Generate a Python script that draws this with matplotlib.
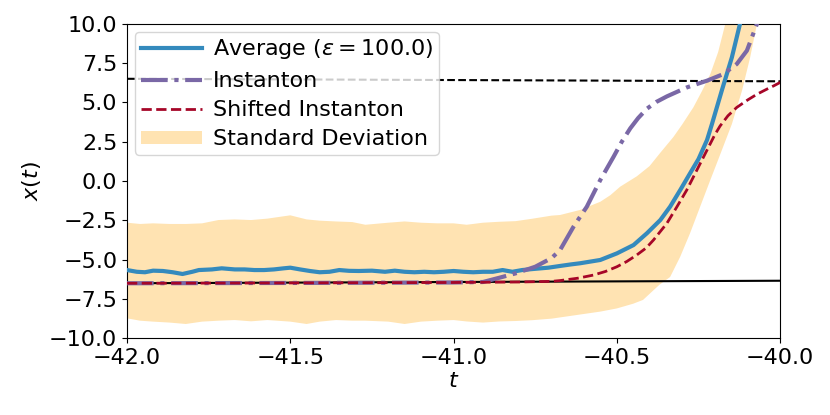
import matplotlib
matplotlib.use("Agg")
import matplotlib.pyplot as plt

# ---- data ----
t_avg = [-42.00, -41.97, -41.945, -41.92, -41.89, -41.86, -41.83, -41.80, -41.78, -41.74,
         -41.71, -41.67, -41.64, -41.61, -41.58, -41.55, -41.52, -41.50, -41.47, -41.44,
         -41.41, -41.38, -41.35, -41.32, -41.29, -41.25, -41.21, -41.18, -41.15, -41.12,
         -41.09, -41.06, -41.03, -41.00, -40.97, -40.94, -40.91, -40.88, -40.85, -40.82,
         -40.79, -40.76, -40.71, -40.674, -40.64, -40.613, -40.551, -40.50, -40.449, -40.408,
         -40.367, -40.337, -40.306, -40.276, -40.25, -40.224, -40.209, -40.179, -40.148, -40.123,
         -40.11]
x_avg = [-5.66, -5.77, -5.80, -5.70, -5.72, -5.80, -5.91, -5.77, -5.66, -5.62,
         -5.55, -5.62, -5.62, -5.66, -5.66, -5.62, -5.55, -5.51, -5.62, -5.72,
         -5.80, -5.77, -5.66, -5.71, -5.72, -5.70, -5.77, -5.70, -5.77, -5.80,
         -5.77, -5.80, -5.77, -5.72, -5.77, -5.80, -5.77, -5.77, -5.66, -5.77,
         -5.66, -5.60, -5.51, -5.40, -5.30, -5.23, -5.02, -4.60, -4.07, -3.32,
         -2.48, -1.63, -0.57, 0.49, 1.40, 2.61, 3.62, 5.74, 7.86, 10.0,
         11.0]

t_sd_upper = [-42.0, -41.96, -41.92, -41.87, -41.82, -41.77, -41.72, -41.67, -41.62, -41.57,
              -41.50, -41.45, -41.41, -41.36, -41.31, -41.27, -41.20, -41.15, -41.10, -41.05,
              -41.00, -40.96, -40.91, -40.86, -40.81, -40.76, -40.70, -40.674, -40.613, -40.551,
              -40.52, -40.49, -40.439, -40.40, -40.367, -40.327, -40.30, -40.266, -40.24, -40.214,
              -40.19, -40.168, -40.15]
sd_upper = [-2.65, -2.73, -2.69, -2.73, -2.73, -2.69, -2.48, -2.44, -2.48, -2.39,
            -2.18, -2.44, -2.52, -2.57, -2.61, -2.78, -2.65, -2.57, -2.65, -2.69,
            -2.69, -2.78, -2.65, -2.59, -2.55, -2.40, -2.20, -2.16, -1.84, -1.32,
            -0.90, -0.36, 0.30, 0.95, 1.80, 2.80, 3.60, 4.68, 5.70, 6.80,
            8.20, 10.0, 11.5]

t_sd_lower = [-42.0, -41.96, -41.92, -41.87, -41.82, -41.77, -41.72, -41.67, -41.62, -41.57,
              -41.50, -41.45, -41.41, -41.36, -41.31, -41.27, -41.20, -41.15, -41.10, -41.05,
              -41.00, -40.96, -40.91, -40.86, -40.81, -40.76, -40.70, -40.65, -40.60, -40.55,
              -40.50, -40.45, -40.42, -40.37, -40.337, -40.306, -40.276, -40.245, -40.214, -40.189,
              -40.148, -40.117, -40.092, -40.071, -40.05]
sd_lower = [-8.73, -8.88, -8.94, -9.00, -9.09, -8.94, -8.88, -8.84, -8.92, -8.84,
            -8.94, -9.09, -8.94, -8.84, -8.88, -8.88, -8.94, -9.09, -8.94, -8.88,
            -8.84, -8.93, -9.00, -8.93, -8.90, -8.85, -8.75, -8.60, -8.45, -8.30,
            -8.10, -7.80, -7.56, -6.60, -6.10, -4.81, -3.32, -1.63, 0.06, 1.40,
            3.62, 5.74, 7.86, 10.0, 11.5]

t_inst = [-42.0, -41.5, -41.0, -40.91, -40.86, -40.81, -40.75, -40.70, -40.674, -40.633,
          -40.592, -40.551, -40.51, -40.485, -40.459, -40.435, -40.408, -40.38, -40.347, -40.286,
          -40.224, -40.174, -40.133, -40.102, -40.071, -40.05]
x_inst = [-6.50, -6.48, -6.45, -6.42, -6.15, -5.87, -5.45, -4.90, -4.39, -2.91,
          -1.63, 0.06, 1.55, 2.50, 3.35, 4.00, 4.60, 5.02, 5.38, 5.95,
          6.38, 6.80, 7.44, 8.29, 10.0, 11.3]

t_shift = [-42.0, -41.5, -41.0, -40.8, -40.7, -40.674, -40.62, -40.572, -40.535, -40.50,
           -40.47, -40.439, -40.41, -40.388, -40.347, -40.316, -40.286, -40.255, -40.224, -40.20,
           -40.184, -40.16, -40.133, -40.10, -40.071, -40.04, -40.02, -40.0]
x_shift = [-6.50, -6.48, -6.45, -6.42, -6.38, -6.33, -6.18, -5.98, -5.75, -5.45,
           -5.12, -4.70, -4.25, -3.75, -2.69, -1.63, -0.57, 0.70, 1.97, 2.95,
           3.50, 4.15, 4.68, 5.15, 5.52, 5.85, 6.05, 6.27]

t_fix = [-42.0, -40.0]
x_fix_low = [-6.50, -6.34]
x_fix_high = [6.50, 6.34]

xticks = [-42.0, -41.5, -41.0, -40.5, -40.0]
yticks = [-10.0, -7.5, -5.0, -2.5, 0.0, 2.5, 5.0, 7.5, 10.0]

# ---- plot ----
fig = plt.figure(figsize=(8.3, 4.15), dpi=100)
ax = fig.add_axes([0.153, 0.1848, 0.787, 0.758])

band = ax.fill(t_sd_upper + t_sd_lower[::-1], sd_upper + sd_lower[::-1],
               color='orange', alpha=0.3, lw=0, label='Standard Deviation', zorder=1)[0]
ax.plot(t_fix, x_fix_low, color='black', lw=1.5, zorder=2)
ax.plot(t_fix, x_fix_high, color='black', lw=1.5, ls='--', zorder=2)
l_avg, = ax.plot(t_avg, x_avg, color='#348ABD', lw=3, label=r'Average ($\epsilon = 100.0$)', zorder=3)
l_inst, = ax.plot(t_inst, x_inst, color='#7A68A6', lw=3, ls='-.', label='Instanton', zorder=4)
l_shift, = ax.plot(t_shift, x_shift, color='#A60628', lw=2, ls='--', label='Shifted Instanton', zorder=5)

ax.set_xlim(-42, -40)
ax.set_ylim(-10, 10)
ax.set_xticks(xticks)
ax.set_yticks(yticks)
ax.tick_params(labelsize=16)
ax.set_xlabel(r'$t$', fontsize=16, labelpad=2)
ax.set_ylabel(r'$x(t)$', fontsize=16)

ax.legend(handles=[l_avg, l_inst, l_shift, band], loc='upper left', fontsize=16,
          handlelength=2.75, handletextpad=0.5, borderpad=0.25, labelspacing=0.42,
          borderaxespad=0.36, handleheight=0.5)

fig.savefig('out.png', dpi=100)
